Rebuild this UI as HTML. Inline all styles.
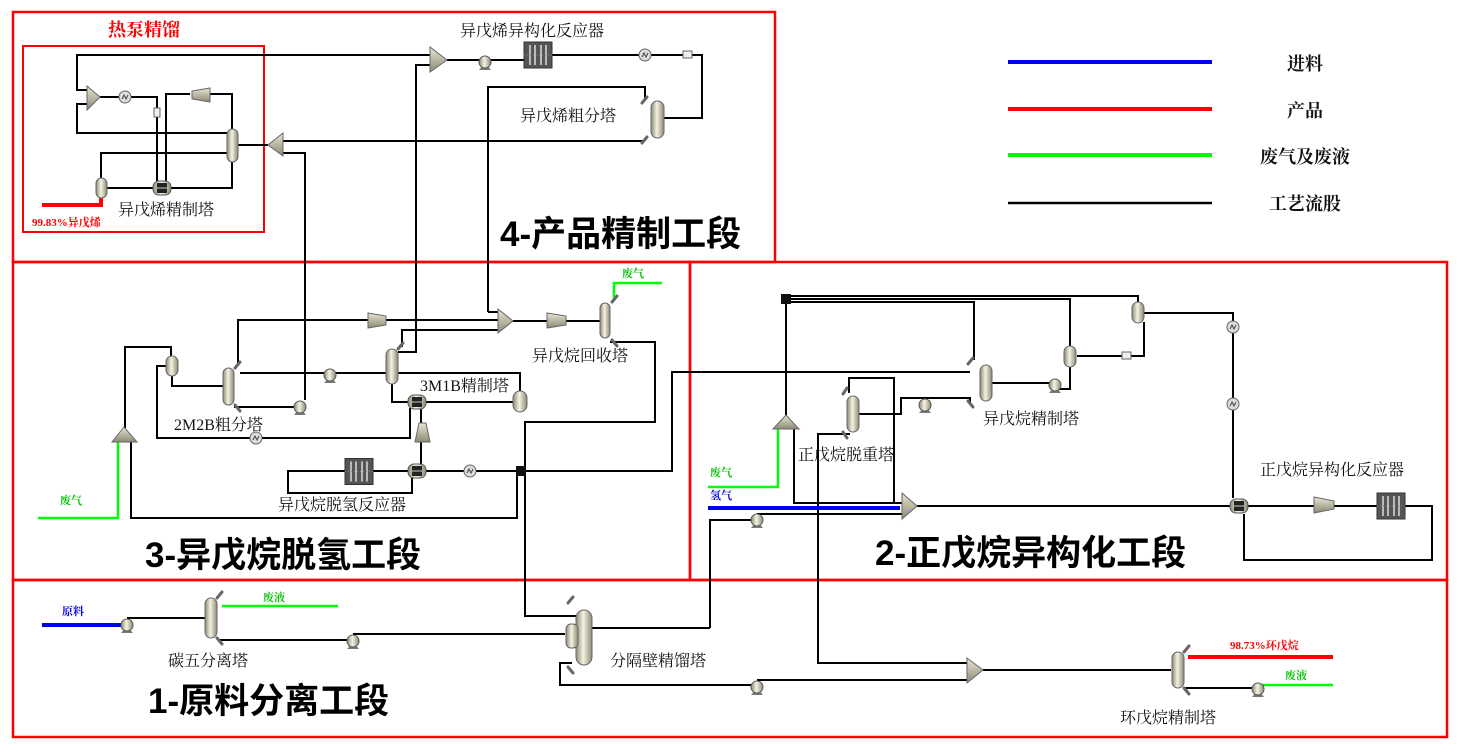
<!DOCTYPE html>
<html><head><meta charset="utf-8"><style>
html,body{margin:0;padding:0;background:#fff;}
svg{display:block;}
text{font-family:"Liberation Serif","Noto Serif CJK SC",serif;}
.lbl{font-size:16px;fill:#111;}
.ttl{font-family:"Liberation Sans","Noto Sans CJK SC",sans-serif;font-weight:bold;font-size:35px;fill:#000;}
.sm{font-size:11px;font-weight:bold;}
</style></head><body>
<svg width="1468" height="749" viewBox="0 0 1468 749" xmlns="http://www.w3.org/2000/svg">
<defs>
<linearGradient id="cg" x1="0" x2="1" y1="0" y2="0"><stop offset="0" stop-color="#8c8a74"/><stop offset="0.45" stop-color="#f4f2e2"/><stop offset="1" stop-color="#8c8a74"/></linearGradient>
<linearGradient id="cv" x1="0" x2="0" y1="0" y2="1"><stop offset="0" stop-color="#e8e6d4"/><stop offset="1" stop-color="#8c8a74"/></linearGradient>
<symbol id="pump" viewBox="-8 -8 16 16" overflow="visible"><polygon points="-6,8 6,8 0,1" fill="#777"/><circle cx="0" cy="0" r="6" fill="url(#cg)" stroke="#555" stroke-width="1"/></symbol>
<symbol id="hx" viewBox="-7 -7 14 14" overflow="visible"><circle cx="0" cy="0" r="6" fill="#ddd" stroke="#666" stroke-width="1"/><path d="M-3,2 L-1,-2 L1,2 L3,-2" stroke="#444" fill="none" stroke-width="1"/></symbol>
<symbol id="ex" viewBox="-9 -7 18 14" overflow="visible"><rect x="-9" y="-7" width="18" height="14" rx="6" fill="url(#cg)" stroke="#555"/><rect x="-5" y="-5" width="10" height="10" fill="#222"/><line x1="-5" y1="0" x2="5" y2="0" stroke="#ccc"/></symbol>
<symbol id="rx" viewBox="0 0 28 26" overflow="visible"><rect x="0" y="0" width="28" height="26" fill="#555" stroke="#333"/><g stroke="#ddd" stroke-width="1.5"><line x1="6" y1="3" x2="6" y2="23"/><line x1="11" y1="3" x2="11" y2="23"/><line x1="17" y1="3" x2="17" y2="23"/><line x1="22" y1="3" x2="22" y2="23"/></g><line x1="0" y1="13" x2="28" y2="13" stroke="#888" stroke-dasharray="1,2"/></symbol>
</defs>

<g fill="none" stroke="#f00" stroke-width="2.5">
<rect x="13" y="12" width="762" height="250"/>
<rect x="23" y="46" width="241" height="186" stroke-width="2"/>
<rect x="13" y="262" width="677" height="318"/>
<rect x="690" y="262" width="757" height="318"/>
<rect x="13" y="580" width="1434" height="157"/>
</g>

<g stroke-width="4">
<line x1="1008" y1="62" x2="1212" y2="62" stroke="#0000f0"/>
<line x1="1008" y1="109" x2="1212" y2="109" stroke="#f00"/>
<line x1="1008" y1="155" x2="1212" y2="155" stroke="#0f0"/>
<line x1="1008" y1="203" x2="1212" y2="203" stroke="#000" stroke-width="2.5"/>
</g>
<g class="lbl" font-weight="bold" text-anchor="middle">
<text x="1305" y="70" font-size="18">进料</text>
<text x="1305" y="117" font-size="18">产品</text>
<text x="1305" y="163" font-size="18">废气及废液</text>
<text x="1305" y="210" font-size="18">工艺流股</text>
</g>

<g fill="none" stroke="#000" stroke-width="2">
<polyline points="430,55 77,55 77,90 88,90"/>
<polyline points="88,104 77,104 77,133 227,133"/>
<polyline points="100,97 157,97 157,186"/>
<polyline points="190,94 166,94 166,186"/>
<polyline points="210,94 232,94 232,130"/>
<polyline points="101,178 101,153 227,153"/>
<polyline points="107,188 232,188 232,161"/>
<polyline points="238,145 268,145"/>
<polyline points="283,141 645,141"/>
<polyline points="283,153 305,153 305,400"/>
<polyline points="430,65 416,65 416,352 398,352"/>
<polyline points="447,60 525,60"/>
<polyline points="552,55 702,55 702,118 664,118"/>
<polyline points="488,312 488,87 645,87 645,100"/>
<polyline points="488,312 498,312"/>
<polyline points="238,365 238,320 498,320"/>
<polyline points="402,347 402,330 498,330"/>
<polyline points="513,321 600,321"/>
<polyline points="610,342 655,342 655,422 525,422 525,616 576,616"/>
<polyline points="521,471 672,471 672,372 970,372"/>
<polyline points="521,471 372,471"/>
<polyline points="345,471 288,471 288,493 412,493 412,478"/>
<polyline points="421,471 421,402"/>
<polyline points="425,402 513,402"/>
<polyline points="398,373 520,373 520,392"/>
<polyline points="392,383 392,402 410,402"/>
<polyline points="240,373 386,373"/>
<polyline points="234,407 300,407"/>
<polyline points="166,366 157,366 157,438 410,438 410,408"/>
<polyline points="172,375 172,386 223,386"/>
<polyline points="171,357 171,347 125,347 125,428"/>
<polyline points="131,442 131,518 517,518 517,471"/>
<polyline points="791,296 1138,296 1138,303"/>
<polyline points="791,299 1070,299 1070,347"/>
<polyline points="791,302 974,302 974,360"/>
<polyline points="786,303 786,415"/>
<polyline points="794,429 794,503 902,503"/>
<polyline points="710,628 710,520 757,520"/>
<polyline points="757,514 902,514"/>
<polyline points="917,506 1238,506"/>
<polyline points="1144,313 1233,313 1233,498"/>
<polyline points="1144,322 1144,356 1077,356"/>
<polyline points="1070,366 1070,389 1055,389"/>
<polyline points="1055,383 985,383"/>
<polyline points="849,393 849,378 894,378 894,503"/>
<polyline points="859,414 901,414 901,398 970,398 970,403"/>
<polyline points="849,433 849,434 818,434 818,663 967,663"/>
<polyline points="1248,506 1377,506"/>
<polyline points="1405,506 1432,506 1432,560 1244,560 1244,514"/>
<polyline points="127,618 205,618"/>
<polyline points="218,640 353,640"/>
<polyline points="353,634 565,634"/>
<polyline points="592,628 710,628"/>
<polyline points="572,663 560,663 560,685 757,685"/>
<polyline points="757,680 967,680"/>
<polyline points="983,670 1171,670"/>
<polyline points="1185,688 1258,688"/>
</g>

<g fill="none" stroke-width="3.5">
<polyline points="101,197 101,205 42,205" stroke="#f00" stroke-width="4"/>
<polyline points="614,298 614,283 662,283" stroke="#0f0" stroke-width="2.5"/>
<polyline points="118,442 118,518 38,518" stroke="#0f0" stroke-width="2.5"/>
<polyline points="778,429 778,487 708,487" stroke="#0f0" stroke-width="2.5"/>
<polyline points="708,508 900,508" stroke="#0000f0" stroke-width="4"/>
<polyline points="42,625 127,625" stroke="#0000f0" stroke-width="4"/>
<polyline points="222,606 338,606" stroke="#0f0" stroke-width="2.5"/>
<polyline points="1188,657 1333,657" stroke="#f00" stroke-width="4"/>
<polyline points="1262,685 1333,685" stroke="#0f0" stroke-width="2.5"/>
</g>

<g fill="url(#cv)" stroke="#666" stroke-width="1">
<polygon points="87,86 100,97 87,110"/>
<polygon points="283,133 268,145 283,156"/>
<polygon points="430,47 447,60 430,72"/>
<polygon points="498,309 513,321 498,333"/>
<polygon points="902,493 917,506 902,519"/>
<polygon points="967,658 983,670 967,683"/>
<polygon points="112,442 124,427 137,442"/>
<polygon points="773,429 786,415 799,429"/>
<polygon points="210,88 210,102 192,99 192,91"/>
<polygon points="368,313 368,328 386,325 386,316"/>
<polygon points="547,313 547,328 566,325 566,316"/>
<polygon points="1314,497 1314,513 1334,509 1334,501"/>
<polygon points="415,442 430,442 426,423 419,423"/>
</g>

<g fill="url(#cg)" stroke="#666" stroke-width="1">
<rect x="227" y="129" width="11" height="33" rx="5.5"/>
<rect x="96" y="178" width="11" height="20" rx="5.5"/>
<rect x="651" y="101" width="13" height="37" rx="6.5"/>
<rect x="600" y="303" width="10" height="35" rx="5"/>
<rect x="223" y="368" width="11" height="37" rx="5.5"/>
<rect x="166" y="356" width="12" height="20" rx="6"/>
<rect x="386" y="349" width="12" height="35" rx="6"/>
<rect x="513" y="391" width="14" height="21" rx="7"/>
<rect x="980" y="365" width="12" height="36" rx="6"/>
<rect x="847" y="396" width="12" height="36" rx="6"/>
<rect x="1064" y="346" width="12" height="21" rx="6"/>
<rect x="1132" y="302" width="12" height="21" rx="6"/>
<rect x="205" y="598" width="12" height="40" rx="6"/>
<rect x="576" y="610" width="16" height="55" rx="8"/>
<rect x="566" y="624" width="12" height="24" rx="5"/>
<rect x="1172" y="652" width="12" height="36" rx="6"/>
</g>

<use href="#rx" x="524" y="42" width="28" height="26"/>
<use href="#rx" x="345" y="458" width="28" height="27"/>
<use href="#rx" x="1377" y="493" width="28" height="26"/>

<use href="#ex" x="153" y="181" width="18" height="14"/>
<use href="#ex" x="408" y="395" width="18" height="14"/>
<use href="#ex" x="408" y="464" width="18" height="14"/>
<use href="#ex" x="1230" y="499" width="18" height="14"/>
<rect x="516" y="466" width="10" height="10" fill="#111"/>
<rect x="781" y="294" width="10" height="10" fill="#111"/>

<use href="#pump" x="477" y="54" width="16" height="16"/>
<use href="#pump" x="292" y="399" width="16" height="16"/>
<use href="#pump" x="322" y="367" width="16" height="16"/>
<use href="#pump" x="749" y="512" width="16" height="16"/>
<use href="#pump" x="917" y="397" width="16" height="16"/>
<use href="#pump" x="1047" y="377" width="16" height="16"/>
<use href="#pump" x="119" y="617" width="16" height="16"/>
<use href="#pump" x="345" y="633" width="16" height="16"/>
<use href="#pump" x="749" y="679" width="16" height="16"/>
<use href="#pump" x="1250" y="681" width="16" height="16"/>

<use href="#hx" x="118" y="90" width="14" height="14"/>
<use href="#hx" x="638" y="48" width="14" height="14"/>
<use href="#hx" x="249" y="431" width="14" height="14"/>
<use href="#hx" x="463" y="464" width="14" height="14"/>
<use href="#hx" x="1226" y="320" width="14" height="14"/>
<use href="#hx" x="1226" y="397" width="14" height="14"/>
<g fill="#eee" stroke="#666" stroke-width="1">
<rect x="154" y="108" width="6" height="9"/>
<rect x="683" y="51" width="9" height="7"/>
<rect x="1122" y="352" width="9" height="7"/>
</g>
<g stroke="#666" stroke-width="3" stroke-linecap="round">
<line x1="642" y1="103" x2="647" y2="97"/><line x1="642" y1="143" x2="647" y2="137"/>
<line x1="612" y1="302" x2="617" y2="296"/><line x1="612" y1="340" x2="617" y2="346"/>
<line x1="235" y1="368" x2="240" y2="362"/><line x1="235" y1="405" x2="240" y2="411"/>
<line x1="398" y1="349" x2="403" y2="343"/>
<line x1="968" y1="364" x2="973" y2="358"/><line x1="968" y1="401" x2="973" y2="407"/>
<line x1="843" y1="394" x2="847" y2="388"/><line x1="843" y1="432" x2="847" y2="438"/>
<line x1="217" y1="598" x2="222" y2="592"/><line x1="217" y1="638" x2="222" y2="644"/>
<line x1="568" y1="603" x2="573" y2="597"/><line x1="568" y1="667" x2="573" y2="673"/>
<line x1="1184" y1="652" x2="1189" y2="646"/><line x1="1184" y1="688" x2="1189" y2="694"/>
</g>

<g class="lbl">
<text x="460" y="36">异戊烯异构化反应器</text>
<text x="520" y="121">异戊烯粗分塔</text>
<text x="118" y="215">异戊烯精制塔</text>
<text x="532" y="361">异戊烷回收塔</text>
<text x="420" y="391" font-family="Liberation Sans,Noto Sans CJK SC,sans-serif">3M1B精制塔</text>
<text x="174" y="430" font-family="Liberation Sans,Noto Sans CJK SC,sans-serif">2M2B粗分塔</text>
<text x="278" y="510">异戊烷脱氢反应器</text>
<text x="983" y="424">异戊烷精制塔</text>
<text x="798" y="460">正戊烷脱重塔</text>
<text x="1260" y="475">正戊烷异构化反应器</text>
<text x="168" y="666">碳五分离塔</text>
<text x="610" y="666">分隔壁精馏塔</text>
<text x="1120" y="723">环戊烷精制塔</text>
</g>
<text x="108" y="36" font-size="18" font-weight="bold" fill="#f00">热泵精馏</text>
<text x="32" y="226" class="sm" fill="#f00">99.83%异戊烯</text>
<text x="1230" y="649" class="sm" fill="#f00">98.73%环戊烷</text>
<g class="sm" fill="#00c000">
<text x="622" y="277">废气</text>
<text x="60" y="504">废气</text>
<text x="710" y="476">废气</text>
<text x="263" y="601">废液</text>
<text x="1285" y="679">废液</text>
</g>
<g class="sm" fill="#0000e0">
<text x="710" y="499">氢气</text>
<text x="62" y="615">原料</text>
</g>

<text class="ttl" x="500" y="246">4-产品精制工段</text>
<text class="ttl" x="145" y="567">3-异戊烷脱氢工段</text>
<text class="ttl" x="875" y="565">2-正戊烷异构化工段</text>
<text class="ttl" x="148" y="713">1-原料分离工段</text>
</svg>
</body></html>
